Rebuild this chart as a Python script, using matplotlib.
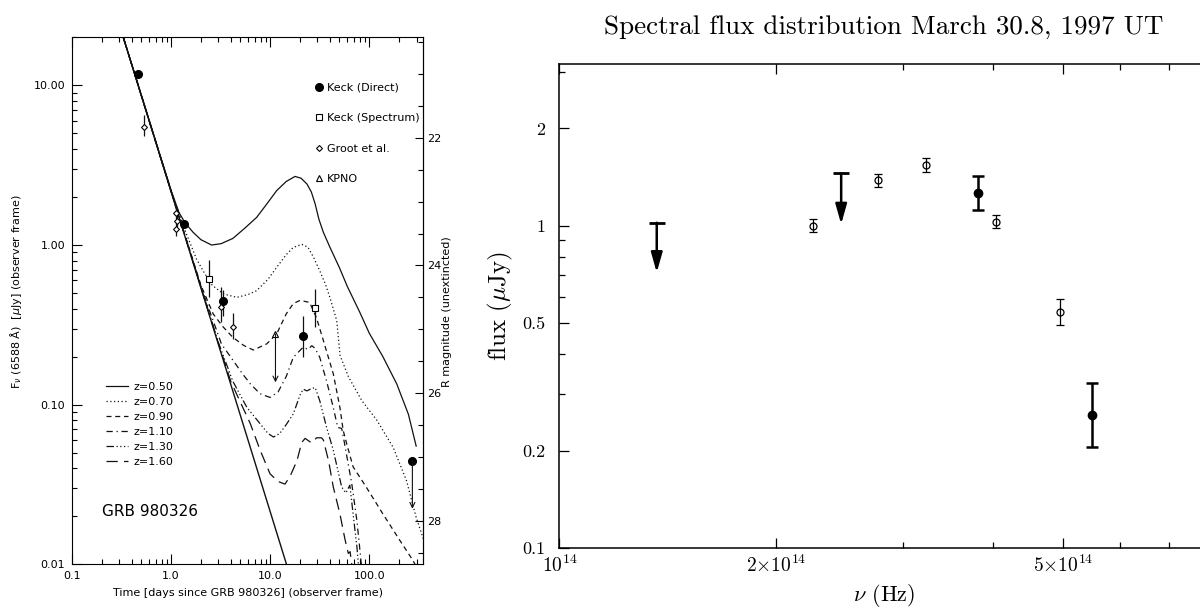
import numpy as np
import matplotlib
matplotlib.use('Agg')
import matplotlib.pyplot as plt
from matplotlib.lines import Line2D
from matplotlib.ticker import FixedLocator, FormatStrFormatter, NullFormatter

plt.rcParams['mathtext.fontset'] = 'cm'
plt.rcParams['font.family'] = 'DejaVu Sans'

# ---------------- left panel: R-band light curve of GRB 980326 ----------------
# power-law afterglow
t_pl = [0.33, 14.6]
f_pl = [19.9, 0.01]

# power law + supernova models at several redshifts
t_z050 = [0.33, 1.0, 1.2, 1.38, 1.67, 2.0, 2.56, 3.2, 4.2, 5.5, 7.3, 9.5, 11.6, 14.5, 17.8,
          20.5, 23.5, 26, 28.4, 31, 34.4, 40, 50, 60, 80, 100, 137, 189, 248, 297]
f_z050 = [19.9, 2.2, 1.6, 1.38, 1.2, 1.08, 1.0, 1.02, 1.1, 1.27, 1.49, 1.85, 2.19, 2.5, 2.69,
          2.62, 2.41, 2.15, 1.81, 1.45, 1.2, 0.97, 0.72, 0.55, 0.38, 0.28, 0.2, 0.135, 0.087, 0.055]

t_z070 = [0.33, 1.0, 1.43, 1.8, 2.1, 2.6, 3.37, 4.6, 6, 7.3, 9.5, 11.6, 14.5, 17.1, 20.8, 24,
          27.3, 31.6, 36, 40, 46.9, 50.7, 61.4, 84, 119, 174, 237, 297, 350]
f_z070 = [19.9, 2.17, 1.17, 0.82, 0.69, 0.56, 0.494, 0.47, 0.49, 0.518, 0.61, 0.724, 0.87,
          0.966, 1.01, 0.97, 0.84, 0.69, 0.57, 0.47, 0.336, 0.203, 0.15, 0.106, 0.08, 0.054,
          0.0335, 0.0197, 0.0145]

t_z090 = [0.33, 1.0, 2.0, 2.66, 3.3, 4.2, 5.4, 6.75, 9.2, 11.6, 14.5, 17.1, 20, 25, 29.3, 34.4,
          43.3, 50.5, 54.5, 60, 68.6, 93, 137, 202, 275, 350]
f_z090 = [19.9, 2.17, 0.56, 0.37, 0.31, 0.264, 0.235, 0.22, 0.24, 0.277, 0.37, 0.43, 0.45,
          0.437, 0.35, 0.252, 0.156, 0.096, 0.069, 0.055, 0.0408, 0.0305, 0.0207, 0.0142,
          0.0106, 0.008]

t_z110 = [0.33, 1.0, 2.0, 3.22, 4.2, 5.3, 6.3, 7.9, 9.96, 12, 14.5, 17.1, 21.5, 24, 26.3, 28.4,
          31.6, 37, 43.3, 48, 52.6, 56, 66.5, 75, 81, 86]
f_z110 = [19.9, 2.17, 0.55, 0.24, 0.19, 0.155, 0.135, 0.117, 0.111, 0.12, 0.15, 0.198, 0.229,
          0.222, 0.234, 0.225, 0.198, 0.141, 0.096, 0.072, 0.071, 0.058, 0.032, 0.0187,
          0.0117, 0.008]

t_z130 = [0.33, 1.0, 2.0, 3.0, 4.2, 5.8, 7.9, 9.5, 10.8, 12.5, 14.5, 17.1, 20, 21.5, 23.5, 26,
          28.4, 31.6, 37, 43.3, 52.6, 58, 63.6, 68.6, 75, 80]
f_z130 = [19.9, 2.17, 0.545, 0.245, 0.14, 0.0964, 0.076, 0.066, 0.0627, 0.066, 0.075, 0.0875,
          0.115, 0.125, 0.122, 0.126, 0.128, 0.106, 0.0724, 0.0518, 0.0305, 0.028, 0.0313,
          0.0207, 0.0128, 0.008]

t_z160 = [0.33, 1.0, 2.0, 3.0, 4.0, 4.95, 5.8, 6.3, 7.9, 9.96, 12, 14.1, 16, 18.6, 20.8, 22.5,
          25.2, 27, 29.3, 33, 34.4, 38.8, 43.3, 50.5, 57, 61.4, 64, 68]
f_z160 = [19.9, 2.17, 0.545, 0.243, 0.14, 0.105, 0.085, 0.076, 0.052, 0.0369, 0.033, 0.0318,
          0.036, 0.0445, 0.058, 0.0615, 0.0585, 0.058, 0.062, 0.062, 0.06, 0.0445, 0.0305,
          0.0207, 0.0142, 0.0117, 0.012, 0.009]

# observations
t_keck = [0.46, 1.36, 3.36, 21.6]
f_keck = [11.8, 1.35, 0.444, 0.268]
lo_keck = [11.8, 1.28, 0.36, 0.198]
hi_keck = [11.8, 1.42, 0.52, 0.361]
t_keck_lim = [272]
f_keck_lim = [0.0445]
tip_keck_lim = [0.0223]

t_spec = [2.41, 28.3]
f_spec = [0.613, 0.403]
lo_spec = [0.47, 0.305]
hi_spec = [0.806, 0.53]

t_groot = [0.533, 1.12, 1.15, 1.12, 3.19, 4.25]
f_groot = [5.49, 1.58, 1.42, 1.26, 0.411, 0.308]
lo_groot = [4.8, 1.45, 1.3, 1.14, 0.33, 0.258]
hi_groot = [6.5, 1.76, 1.55, 1.4, 0.548, 0.373]

t_kpno = [11.3]
f_kpno = [0.277]
tip_kpno = [0.138]

zlabels = ['z=0.50', 'z=0.70', 'z=0.90', 'z=1.10', 'z=1.30', 'z=1.60']
mag_ticks = [22, 24, 26, 28]
mag_minor = [20.5, 21, 21.5, 22.5, 23, 23.5, 24.5, 25, 25.5, 26.5, 27, 27.5, 28.5]

# ---------------- right panel: spectral flux distribution ----------------
nu_open = [2.25e14, 2.77e14, 3.23e14, 4.04e14, 4.95e14]
f_open = [1.00, 1.38, 1.544, 1.029, 0.539]
lo_open = [0.956, 1.315, 1.47, 0.981, 0.493]
hi_open = [1.049, 1.447, 1.618, 1.076, 0.592]

nu_fill = [3.81e14, 5.48e14]
f_fill = [1.26, 0.259]
lo_fill = [1.116, 0.206]
hi_fill = [1.42, 0.326]

nu_lim = [1.365e14, 2.46e14]
top_lim = [1.02, 1.45]
tip_lim = [0.715, 1.01]

ZP = 23.68  # R mag of 1 microJy as drawn on the right axis


def flux2mag(f):
    return ZP - 2.5 * np.log10(np.clip(f, 1e-12, None))


def mag2flux(m):
    return 10 ** ((ZP - np.asarray(m, dtype=float)) / 2.5)


fig = plt.figure(figsize=(12, 6.1), dpi=100)

# ---- left ----
ax1 = fig.add_axes([0.06, 0.0749, 0.2928, 0.8639])
ax1.set_xscale('log')
ax1.set_yscale('log')
ink = '#111111'
ax1.plot(t_pl, f_pl, color=ink, lw=1.0)
styles = ['-', (0, (1, 2)), (0, (4, 3)), (0, (5, 3, 1, 3)), (0, (6, 2, 1, 2, 1, 2, 1, 2)), (0, (9, 5))]
curves = [(t_z050, f_z050), (t_z070, f_z070), (t_z090, f_z090),
          (t_z110, f_z110), (t_z130, f_z130), (t_z160, f_z160)]
zhandles = []
for (tt, ff), ls, lab in zip(curves, styles, zlabels):
    ln, = ax1.plot(tt, ff, color=ink, lw=0.9, ls=ls, label=lab)
    zhandles.append(ln)

def vbars(ax, x, f, lo, hi):
    f = np.array(f)
    ax.errorbar(x, f, yerr=[f - np.array(lo), np.array(hi) - f], fmt='none',
                ecolor=ink, elinewidth=0.9, capsize=0)

vbars(ax1, t_keck, f_keck, lo_keck, hi_keck)
vbars(ax1, t_spec, f_spec, lo_spec, hi_spec)
vbars(ax1, t_groot, f_groot, lo_groot, hi_groot)
ax1.plot(t_keck + t_keck_lim, f_keck + f_keck_lim, 'o', color='k', ms=5.5, ls='none')
ax1.plot(t_spec, f_spec, 's', mfc='white', mec='k', ms=4.5, mew=0.8, ls='none')
ax1.plot(t_groot, f_groot, 'D', mfc='white', mec='k', ms=3, mew=0.8, ls='none')
ax1.plot(t_kpno, f_kpno, '^', mfc='white', mec='k', ms=4.5, mew=0.8, ls='none')
for t, f, tip in zip(t_keck_lim + t_kpno, f_keck_lim + f_kpno, tip_keck_lim + tip_kpno):
    ax1.annotate('', xy=(t, tip), xytext=(t, f),
                 arrowprops=dict(arrowstyle='->', lw=0.8, color=ink, shrinkA=0, shrinkB=0,
                                 mutation_scale=9))

ax1.set_xlim(0.1, 351)
ax1.set_ylim(0.01, 20)
ax1.set_xticks([0.1, 1, 10, 100], labels=['0.1', '1.0', '10.0', '100.0'])
ax1.set_yticks([0.01, 0.1, 1, 10], labels=['0.01', '0.10', '1.00', '10.00'])
ax1.xaxis.set_minor_formatter(NullFormatter())
ax1.yaxis.set_minor_formatter(NullFormatter())
ax1.tick_params(which='both', direction='in', top=True, right=False, labelsize=8, width=0.8)
ax1.tick_params(which='major', length=7, pad=5)
ax1.tick_params(which='minor', length=3.5)
ax1.set_xlabel('Time [days since GRB 980326] (observer frame)', fontsize=8, labelpad=5)
ax1.set_ylabel(r'F$_\nu$ (6588 Å)  [$\mu$Jy] (observer frame)', fontsize=8,
               math_fontfamily='dejavusans')
ax1.yaxis.set_label_coords(-0.137, 0.517)

sec = ax1.secondary_yaxis('right', functions=(flux2mag, mag2flux))
sec.yaxis.set_major_locator(FixedLocator(mag_ticks))
sec.yaxis.set_major_formatter(FormatStrFormatter('%d'))
sec.yaxis.set_minor_locator(FixedLocator(mag_minor))
sec.yaxis.set_minor_formatter(NullFormatter())
sec.tick_params(which='both', direction='in', labelsize=8, width=0.8)
sec.tick_params(which='major', length=6, pad=3)
sec.tick_params(which='minor', length=3.5)
ax1.text(1.053, 0.48, 'R magnitude (unextincted)', transform=ax1.transAxes, fontsize=8,
         rotation=90, ha='left', va='center')

obs_handles = [Line2D([], [], marker='o', color='k', ls='none', ms=5.5),
               Line2D([], [], marker='s', mfc='white', mec='k', ls='none', ms=4.5, mew=0.8),
               Line2D([], [], marker='D', mfc='white', mec='k', ls='none', ms=3, mew=0.8),
               Line2D([], [], marker='^', mfc='white', mec='k', ls='none', ms=4.5, mew=0.8)]
leg1 = ax1.legend(obs_handles, ['Keck (Direct)', 'Keck (Spectrum)', 'Groot et al.', 'KPNO'],
                  loc='upper left', bbox_to_anchor=(0.675, 0.925), frameon=False, fontsize=8,
                  handlelength=0.8, handletextpad=0.3, labelspacing=1.85, borderpad=0,
                  numpoints=1)
ax1.add_artist(leg1)
ax1.legend(zhandles, zlabels, loc='upper left', bbox_to_anchor=(0.08, 0.357), frameon=False,
           fontsize=8, handlelength=2.0, handletextpad=0.5, labelspacing=0.45, borderpad=0)
ax1.text(0.084, 0.1, 'GRB 980326', transform=ax1.transAxes, fontsize=11, va='center')

# ---- right ----
ax2 = fig.add_axes([0.4661, 0.1016, 0.6008, 0.7930])
ax2.set_xscale('log')
ax2.set_yscale('log')
fo = np.array(f_open)
ax2.errorbar(nu_open, fo, yerr=[fo - np.array(lo_open), np.array(hi_open) - fo], fmt='o',
             mfc='none', mec='k', ms=5, mew=0.9, ecolor='k', elinewidth=0.9, capsize=3,
             capthick=0.9)
ff = np.array(f_fill)
ax2.errorbar(nu_fill, ff, yerr=[ff - np.array(lo_fill), np.array(hi_fill) - ff], fmt='o',
             color='k', ms=6, ecolor='k', elinewidth=1.8, capsize=4, capthick=1.8)
ax2.plot(nu_lim, top_lim, '_', color='k', ms=11, mew=2)
for nu, top, tip in zip(nu_lim, top_lim, tip_lim):
    ax2.annotate('', xy=(nu, tip), xytext=(nu, top),
                 arrowprops=dict(arrowstyle='-|>,head_length=0.6,head_width=0.17', lw=1.8,
                                 color='k', shrinkA=0, shrinkB=0, mutation_scale=20))
ax2.set_xlim(1e14, 1e15)
ax2.set_ylim(0.1, 10 ** 0.5)
ax2.set_xticks([1e14, 2e14, 5e14],
               labels=[r'$10^{14}$', r'$2{\times}10^{14}$', r'$5{\times}10^{14}$'])
ax2.set_xticks([3e14, 4e14, 6e14, 7e14, 8e14, 9e14], minor=True)
ax2.set_yticks([0.1, 0.2, 0.5, 1, 2], labels=['0.1', '0.2', '0.5', '1', '2'])
ax2.set_yticks([0.3, 0.4, 0.6, 0.7, 0.8, 0.9, 3], minor=True)
ax2.xaxis.set_minor_formatter(NullFormatter())
ax2.yaxis.set_minor_formatter(NullFormatter())
ax2.tick_params(which='both', direction='in', top=True, right=True, labelsize=13,
                labelfontfamily='cmr10', width=0.9)
ax2.tick_params(axis='x', labelsize=14)
ax2.tick_params(which='major', length=7)
ax2.tick_params(which='minor', length=4.5)
ax2.tick_params(axis='y', pad=10)
ax2.tick_params(axis='x', pad=5)
for sp in ax2.spines.values():
    sp.set_linewidth(1.1)
ax2.set_ylabel(r'flux ($\mu$Jy)', fontsize=18, family='cmr10')
ax2.yaxis.set_label_coords(-0.062, 0.5)
ax2.set_xlabel(r'$\nu$ (Hz)', fontsize=16, family='cmr10')
ax2.xaxis.set_label_coords(0.45, -0.07)
fig.text(884 / 1200, 1 - 27 / 610, 'Spectral flux distribution March 30.8, 1997 UT',
         fontsize=19.5, family='cmr10', ha='center', va='center')

fig.savefig('out.png', dpi=100)
